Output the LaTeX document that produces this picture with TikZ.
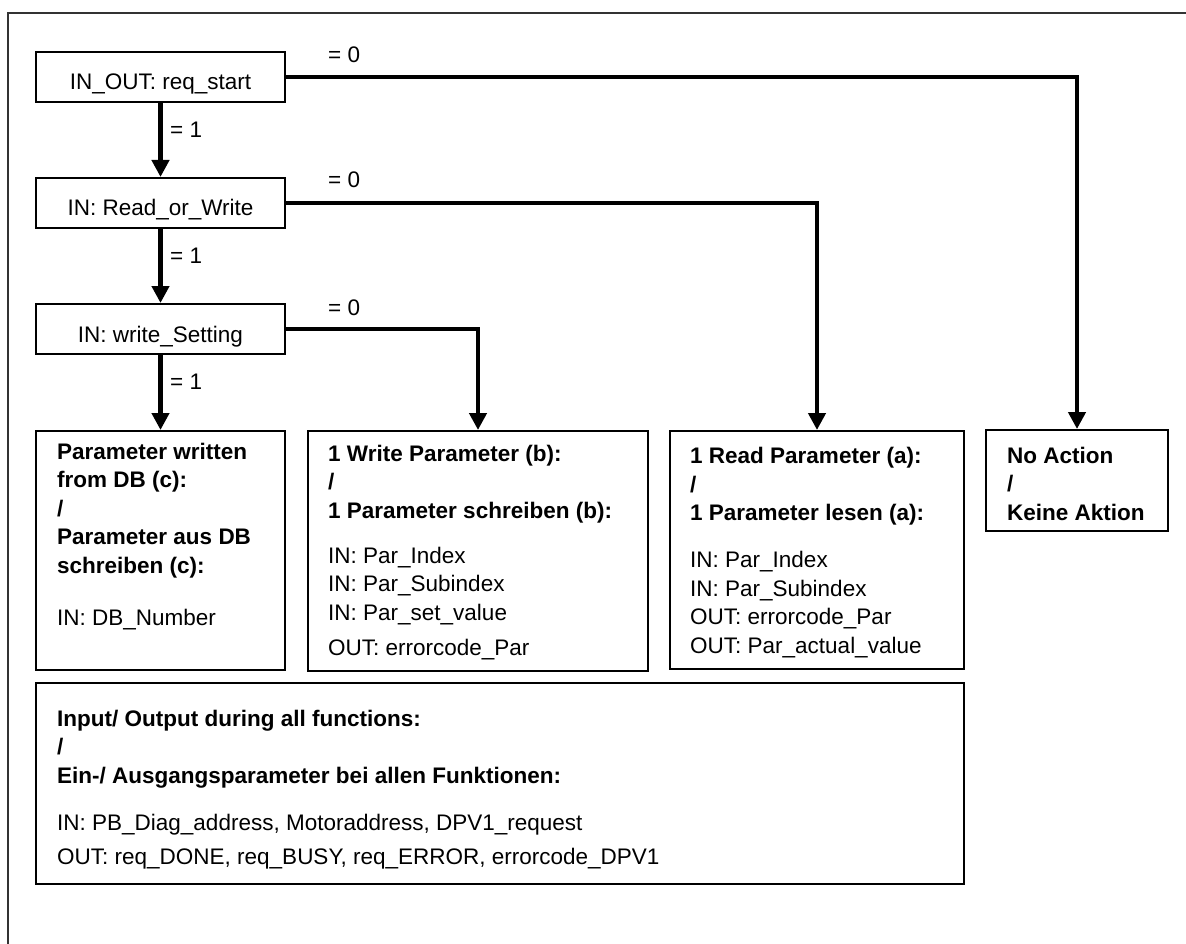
\documentclass[tikz,border=0pt]{standalone}
\usepackage{fontspec}
\setmainfont{Liberation Sans}
\usetikzlibrary{arrows.meta}
\begin{document}
\begin{tikzpicture}[x=1pt,y=-1pt,
  every node/.style={font=\fontsize{22.5}{28.5}\selectfont},
  box/.style={draw=black,line width=2pt,inner sep=0pt},
  dbox/.style={box,minimum width=249pt,minimum height=50pt,text height=26pt,text depth=0pt},
  txt/.style={inner sep=0pt,anchor=base west,align=left},
  lbl/.style={inner sep=0pt,anchor=base west},
  conn/.style={line width=4.5pt,-{Triangle[width=17pt,length=17pt]}},
  frame/.style={draw=black!80,line width=2pt}]
\useasboundingbox (0,0) rectangle (1186,944);
\draw[frame] (8,944) -- (8,13) -- (1186,13);
% decision boxes
\node[dbox] (b1) at (160.5,77) {IN\_OUT: req\_start};
\node[dbox] (b2) at (160.5,203) {IN: Read\_or\_Write};
\node[dbox] (b3) at (160.5,329) {IN: write\_Setting};
% result boxes
\node[box,minimum width=249pt,minimum height=239pt] (b4) at (160.5,550.5) {};
\node[box,minimum width=340pt,minimum height=240pt] (b5) at (478,551) {};
\node[box,minimum width=294pt,minimum height=238pt] (rd) at (817,550) {};
\node[box,minimum width=182pt,minimum height=101pt] (na) at (1077,480.5) {};
\node[box,minimum width=928pt,minimum height=201pt] (bt) at (500,783.5) {};
% texts (anchor = baseline of the last line)
\node[txt] (t4) at (57,625) {\textbf{Parameter written}\\\textbf{from DB (c):}\\\textbf{/}\\\textbf{Parameter aus DB}\\\textbf{schreiben (c):}\\[23.5pt]IN: DB\_Number};
\node[txt] (t5) at (328,655) {\textbf{1 Write Parameter (b):}\\\textbf{/}\\\textbf{1 Parameter schreiben (b):}\\[16.5pt]IN: Par\_Index\\IN: Par\_Subindex\\IN: Par\_set\_value\\[6.5pt]OUT: errorcode\_Par};
\node[txt] (trd) at (690,653) {\textbf{1 Read Parameter (a):}\\\textbf{/}\\\textbf{1 Parameter lesen (a):}\\[18.5pt]IN: Par\_Index\\IN: Par\_Subindex\\OUT: errorcode\_Par\\OUT: Par\_actual\_value};
\node[txt] (tna) at (1007,520) {\textbf{No Action}\\\textbf{/}\\\textbf{Keine Aktion}};
\node[txt] (tbt) at (57,864) {\textbf{Input/ Output during all functions:}\\\textbf{/}\\\textbf{Ein-/ Ausgangsparameter bei allen Funktionen:}\\[18.5pt]IN: PB\_Diag\_address, Motoraddress, DPV1\_request\\[5.5pt]OUT: req\_DONE, req\_BUSY, req\_ERROR, errorcode\_DPV1};
% connectors
\draw[conn] (b1.south) -- (b2.north);
\draw[conn] (b2.south) -- (b3.north);
\draw[conn] (b3.south) -- (b4.north);
\draw[conn] (b1.east) -| (na.north);
\draw[conn] (b2.east) -| (rd.north);
\draw[conn] (b3.east) -| (b5.north);
% labels
\node[lbl] (l1) at (170,138) {= 1};
\node[lbl] (l2) at (170,263) {= 1};
\node[lbl] (l3) at (170,389) {= 1};
\node[lbl] (l4) at (328,63) {= 0};
\node[lbl] (l5) at (328,188) {= 0};
\node[lbl] (l6) at (328,315) {= 0};
\end{tikzpicture}
\end{document}
